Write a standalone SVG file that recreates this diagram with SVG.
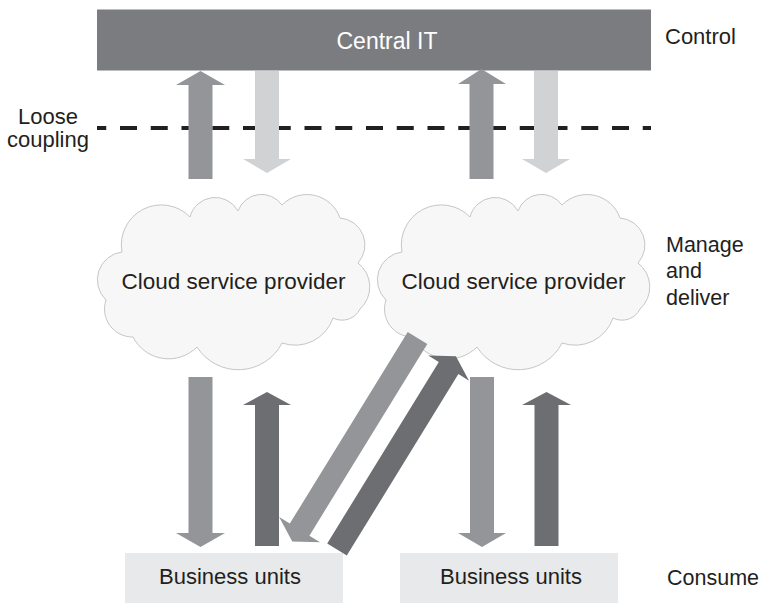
<svg xmlns="http://www.w3.org/2000/svg" width="768" height="603" viewBox="0 0 768 603">
<defs>
<style>
.lbl{font-family:"Liberation Sans",Arial,sans-serif;font-size:22px;fill:#231f20}
.mid{fill:#939598}
.dark{fill:#6d6e72}
.light{fill:#d1d2d4}
.cloud{fill:#f7f7f7;stroke:#c6c6c6;stroke-width:1}
.bu{fill:#e8e9eb}
</style>
<path id="cloudShape" d="M122,252 A40,40 0 0 1 190,217 A26,26 0 0 1 238,211 A25,25 0 0 1 282,205 A35,35 0 0 1 340,218 A27,27 0 0 1 358,263 A30,30 0 0 1 360,309 A20,20 0 0 1 333,318 A40,40 0 0 1 282,343 A49,49 0 0 1 197,347 A40,40 0 0 1 133,337 A28,28 0 0 1 106,300 A28,28 0 0 1 122,252 Z"/>
</defs>
<rect width="768" height="603" fill="#ffffff"/>

<g id="central-it">
<rect x="97" y="9.5" width="554" height="61" fill="#7b7c80"/>
<text class="lbl" x="387" y="49" text-anchor="middle" style="fill:#ffffff;font-size:23px">Central IT</text>
</g>

<g id="coupling-line">
<line x1="97" y1="128" x2="651" y2="128" stroke="#231f20" stroke-width="4" stroke-dasharray="17 13.75" stroke-dashoffset="7.75"/>
</g>

<g id="cloud-1">
<use href="#cloudShape" class="cloud"/>
<text class="lbl" x="233.5" y="289" text-anchor="middle" style="font-size:22.5px">Cloud service provider</text>
</g>
<g id="cloud-2">
<use href="#cloudShape" class="cloud" transform="translate(280,0)"/>
<text class="lbl" x="513.5" y="289" text-anchor="middle" style="font-size:22.5px">Cloud service provider</text>
</g>

<g id="business-units-1">
<rect class="bu" x="125" y="553" width="218" height="50"/>
<text class="lbl" x="230" y="584" text-anchor="middle">Business units</text>
</g>
<g id="business-units-2">
<rect class="bu" x="400" y="553" width="218" height="50"/>
<text class="lbl" x="511" y="584" text-anchor="middle">Business units</text>
</g>

<g id="connectors">
<polygon class="mid" points="188.5,179 188.5,85 176,85 200.5,71 225,85 212.5,85 212.5,179"/>
<polygon class="light" points="255,71 279,71 279,159 291,159 267,173 243,159 255,159"/>
<polygon class="mid" points="469.5,179 469.5,84 458,84 481.5,69 506,84 493.5,84 493.5,179"/>
<polygon class="light" points="534,71 558,71 558,159 570,159 546,173 522,159 534,159"/>

<polygon class="mid" points="188.5,377 212.5,377 212.5,533 225,533 200.5,547 176,533 188.5,533"/>
<polygon class="dark" points="255,546 255,405 243,405 267,392 291,405 279,405 279,546"/>
<polygon class="mid" points="470,377 494,377 494,533 506,533 482,547 458,533 470,533"/>
<polygon class="dark" points="534.5,546 534.5,405 522,405 546.5,392 571,405 558.5,405 558.5,546"/>

<polygon class="mid" transform="translate(417.5,338) rotate(31.6)" points="-11.5,0 11.5,0 11.5,225 24,225 0,239 -24,225 -11.5,225"/>
<polygon class="dark" transform="translate(337,549.5) rotate(31.6)" points="-11.5,0 -11.5,-213 -24,-213 0,-227 24,-213 11.5,-213 11.5,0"/>
</g>

<g id="labels">
<text class="lbl" x="665" y="44">Control</text>
<text class="lbl" x="48" y="124" text-anchor="middle">Loose</text>
<text class="lbl" x="48" y="147" text-anchor="middle">coupling</text>
<text class="lbl" x="666" y="252" style="font-size:21.5px">Manage</text>
<text class="lbl" x="666" y="278" style="font-size:21.5px">and</text>
<text class="lbl" x="666" y="305" style="font-size:21.5px">deliver</text>
<text class="lbl" x="667" y="585" style="font-size:21.5px">Consume</text>
</g>
</svg>
